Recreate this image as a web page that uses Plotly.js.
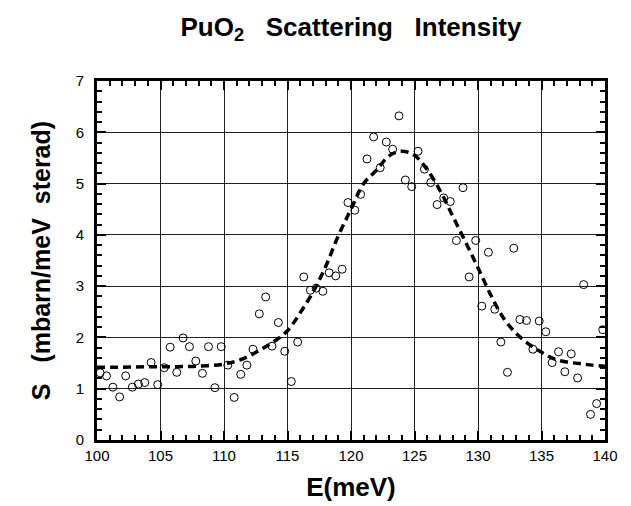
<!DOCTYPE html>
<html>
<head>
<meta charset="utf-8">
<script src="https://cdn.plot.ly/plotly-3.0.1.min.js"></script>
<style>html,body{margin:0;padding:0;background:#fff;}#chart{width:631px;height:506px;}</style>
</head>
<body>
<div id="chart"></div>
<script>
// Measured scattering intensity points
const energy = [100.25,100.75,101.25,101.78,102.26,102.78,103.26,103.76,104.26,104.78,
  105.3,105.76,106.28,106.78,107.28,107.78,108.3,108.78,109.28,109.78,
  110.3,110.8,111.32,111.8,112.28,112.78,113.28,113.78,114.28,114.78,
  115.3,115.8,116.28,116.8,117.26,117.78,118.28,118.8,119.3,119.76,
  120.3,120.76,121.26,121.78,122.3,122.78,123.28,123.78,124.28,124.78,
  125.28,125.78,126.28,126.78,127.3,127.82,128.3,128.82,129.3,129.82,
  130.3,130.82,131.32,131.8,132.32,132.82,133.3,133.82,134.32,134.82,
  135.34,135.84,136.34,136.84,137.34,137.84,138.32,138.86,139.34,139.82];
const intensity = [1.31,1.25,1.03,0.84,1.25,1.03,1.09,1.12,1.51,1.08,
  1.41,1.81,1.32,1.99,1.82,1.54,1.30,1.82,1.02,1.82,
  1.46,0.83,1.28,1.46,1.77,2.46,2.79,1.83,2.29,1.73,
  1.14,1.91,3.18,2.92,2.96,2.90,3.26,3.20,3.33,4.63,
  4.48,4.79,5.48,5.91,5.31,5.81,5.67,6.32,5.07,4.94,
  5.63,5.28,5.02,4.59,4.72,4.65,3.89,4.92,3.18,3.89,
  2.61,3.66,2.55,1.91,1.32,3.74,2.35,2.33,1.77,2.32,
  2.11,1.51,1.72,1.33,1.68,1.21,3.03,0.50,0.71,2.15];
// Fitted curve
const fitE = [100,102,104,106,108,110,111,112,113,114,115,116,117,118,119,120,121,122,123,124,
  125,126,127,128,129,130,131,132,133,134,135,136,137,138,139,140];
const fitS = [1.42,1.42,1.43,1.43,1.44,1.48,1.54,1.64,1.78,1.93,2.13,2.48,2.88,3.38,3.98,4.50,5.00,5.26,5.54,5.63,
  5.55,5.27,4.87,4.37,3.87,3.36,2.83,2.38,2.08,1.87,1.71,1.58,1.52,1.49,1.46,1.44];
const xTicks = [100,105,110,115,120,125,130,135,140];
const yTicks = [0,1,2,3,4,5,6,7];

const font = 'Liberation Sans, Arial, Helvetica, sans-serif';

const traces = [
  {x: energy, y: intensity, type: 'scatter', mode: 'markers',
   marker: {symbol: 'circle-open', size: 8, color: '#000', line: {width: 1, color: '#000'}},
   hoverinfo: 'x+y'},
  {x: fitE, y: fitS, type: 'scatter', mode: 'lines',
   line: {color: '#000', width: 3.5, dash: '8px,5px', shape: 'spline', smoothing: 1}}
];

const axisCommon = {
  showline: true, linewidth: 3, linecolor: '#000', mirror: 'allticks',
  ticks: 'inside', ticklen: 9, tickwidth: 2, tickcolor: '#000',
  showgrid: true, gridcolor: '#222', gridwidth: 1, zeroline: false,
  tickfont: {family: font, size: 15, color: '#000'},
  fixedrange: true
};

const layout = {
  width: 631, height: 506,
  margin: {l: 97, r: 26, t: 81, b: 66},
  paper_bgcolor: '#fff', plot_bgcolor: '#fff',
  showlegend: false,
  title: {
    text: '<b>PuO<sub>2</sub>&nbsp;&nbsp;&nbsp;Scattering&nbsp;&nbsp;&nbsp;Intensity</b>',
    font: {family: font, size: 26, color: '#000'},
    x: 0.5, xref: 'paper', xanchor: 'center',
    y: 0.965, yref: 'container', yanchor: 'top'
  },
  xaxis: Object.assign({}, axisCommon, {
    range: [100, 140], tickvals: xTicks,
    minor: {dtick: 1, ticks: 'inside', ticklen: 5, tickwidth: 2, tickcolor: '#000', showgrid: false},
    title: {text: '<b>E(meV)</b>', font: {family: font, size: 26, color: '#000'}, standoff: 15}
  }),
  yaxis: Object.assign({}, axisCommon, {
    range: [0, 7], tickvals: yTicks, ticklabelstandoff: 7,
    minor: {dtick: 0.2, ticks: 'inside', ticklen: 5, tickwidth: 2, tickcolor: '#000', showgrid: false},
    title: {text: '<b>S&nbsp;&nbsp;&nbsp;(mbarn/meV&nbsp;&nbsp;sterad)</b>', font: {family: font, size: 25, color: '#000'}, standoff: 18}
  })
};

Plotly.newPlot('chart', traces, layout, {displayModeBar: false, staticPlot: true});
</script>
</body>
</html>
